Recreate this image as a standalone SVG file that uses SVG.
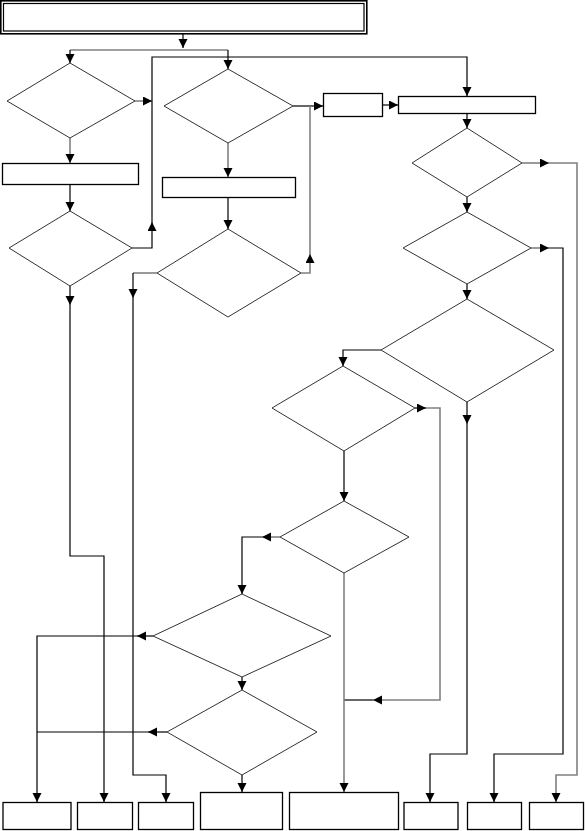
<svg xmlns="http://www.w3.org/2000/svg" width="585" height="831" viewBox="0 0 585 831">
<defs>
<marker id="ah" markerUnits="userSpaceOnUse" markerWidth="10" markerHeight="10" refX="9" refY="4.5" orient="auto">
<path d="M0,0 L9,4.5 L0,9 z" fill="#000"/>
</marker>
<style>
.box{fill:#fff;stroke:#000;stroke-width:1.3}
.dia{fill:#fff;stroke:#333;stroke-width:1}
.c{fill:none;stroke:#000;stroke-width:1.2}
.g{fill:none;stroke:#808080;stroke-width:1.6}
.a{marker-end:url(#ah)}
</style>
</defs>
<rect width="585" height="831" fill="#fff"/>
<g id="connectors">
<path class="c a" d="M183,34 V48"/>
<path class="g" d="M70,50 H228"/>
<path class="c a" d="M70,50 V63"/>
<path class="c a" d="M228,50 V69"/>
<path class="g a" d="M135,101 H152"/>
<path class="c a" d="M132,248 H152 V222"/>
<path class="c a" d="M152,222 V57 H467 V96"/>
<path class="g a" d="M70,138 V163"/>
<path class="c a" d="M70,184 V211"/>
<path class="c a" d="M70,286 V305"/>
<path class="c a" d="M70,305 V556 H104 V802"/>
<path class="c a" d="M293,106 H323"/>
<path class="g a" d="M301,273 H310 V254"/>
<path class="g" d="M310,254 V106"/>
<path class="g a" d="M228,143 V177"/>
<path class="c a" d="M228,197 V229"/>
<path class="g" d="M157,273 H133"/>
<path class="c a" d="M133,273 V298"/>
<path class="c a" d="M133,298 V775 H166 V802"/>
<path class="c a" d="M383,105 H398"/>
<path class="c a" d="M467,114 V128"/>
<path class="g a" d="M522,163 H549"/>
<path class="g a" d="M549,163 H577 V775 H556 V802"/>
<path class="c a" d="M467,197 V212"/>
<path class="g a" d="M531,248 H549"/>
<path class="c a" d="M549,248 H563 V754 H494 V802"/>
<path class="c a" d="M467,284 V299"/>
<path class="c a" d="M381,350 H343 V366"/>
<path class="c a" d="M467,402 V424"/>
<path class="c a" d="M467,424 V754 H430 V802"/>
<path class="c a" d="M415,408 H426"/>
<path class="g a" d="M426,408 H440 V700 H373"/>
<path class="c" d="M373,700 H344"/>
<path class="c a" d="M344,451 V501"/>
<path class="g a" d="M280,537 H262"/>
<path class="c a" d="M262,537 H242 V594"/>
<path class="g a" d="M344,573 V792"/>
<path class="c a" d="M153,636 H137"/>
<path class="c a" d="M137,636 H37 V802"/>
<path class="c a" d="M242,677 V690"/>
<path class="c a" d="M167,732 H148"/>
<path class="c" d="M148,732 H37"/>
<path class="c a" d="M242,775 V792"/>
</g>
<g id="start">
<rect x="0.8" y="0.8" width="366" height="33" fill="#fff" stroke="#000" stroke-width="1.6"/>
<rect x="3.5" y="3.5" width="360.5" height="27.5" fill="none" stroke="#000" stroke-width="1.2"/>
</g>
<g id="d1"><polygon class="dia" points="70,63 135,101 70,138 7,101"/></g>
<g id="d2"><polygon class="dia" points="228,69 293,106 228,143 164,106"/></g>
<g id="boxL1"><rect class="box" x="2.5" y="163.5" width="136" height="21"/></g>
<g id="boxM1"><rect class="box" x="162.5" y="177.5" width="133" height="20"/></g>
<g id="d3"><polygon class="dia" points="70,211 132,248 70,286 9,248"/></g>
<g id="d4"><polygon class="dia" points="228,229 301,273 228,317 157,273"/></g>
<g id="boxA"><rect class="box" x="323.5" y="93.5" width="59" height="23"/></g>
<g id="boxB"><rect class="box" x="398.5" y="96.5" width="137" height="17"/></g>
<g id="d5"><polygon class="dia" points="467,128 522,163 467,197 412,163"/></g>
<g id="d6"><polygon class="dia" points="467,212 531,248 467,284 403,248"/></g>
<g id="d7"><polygon class="dia" points="467,299 554,350 467,402 381,350"/></g>
<g id="d8"><polygon class="dia" points="343,366 415,408 344,451 272,408"/></g>
<g id="d9"><polygon class="dia" points="344,501 409,537 344,573 280,537"/></g>
<g id="d10"><polygon class="dia" points="242,594 331,636 242,677 153,636"/></g>
<g id="d11"><polygon class="dia" points="242,690 317,732 242,775 167,732"/></g>
<g id="b1"><rect class="box" x="3" y="802.5" width="68" height="27"/></g>
<g id="b2"><rect class="box" x="77.5" y="802.5" width="55" height="27"/></g>
<g id="b3"><rect class="box" x="138.5" y="802.5" width="55" height="27"/></g>
<g id="b4"><rect class="box" x="200.5" y="792.5" width="82" height="37"/></g>
<g id="b5"><rect class="box" x="289.5" y="792.5" width="109" height="37"/></g>
<g id="b6"><rect class="box" x="404" y="802.5" width="54" height="27"/></g>
<g id="b7"><rect class="box" x="467.5" y="802.5" width="54" height="27"/></g>
<g id="b8"><rect class="box" x="529.5" y="802.5" width="54" height="27"/></g>
</svg>
